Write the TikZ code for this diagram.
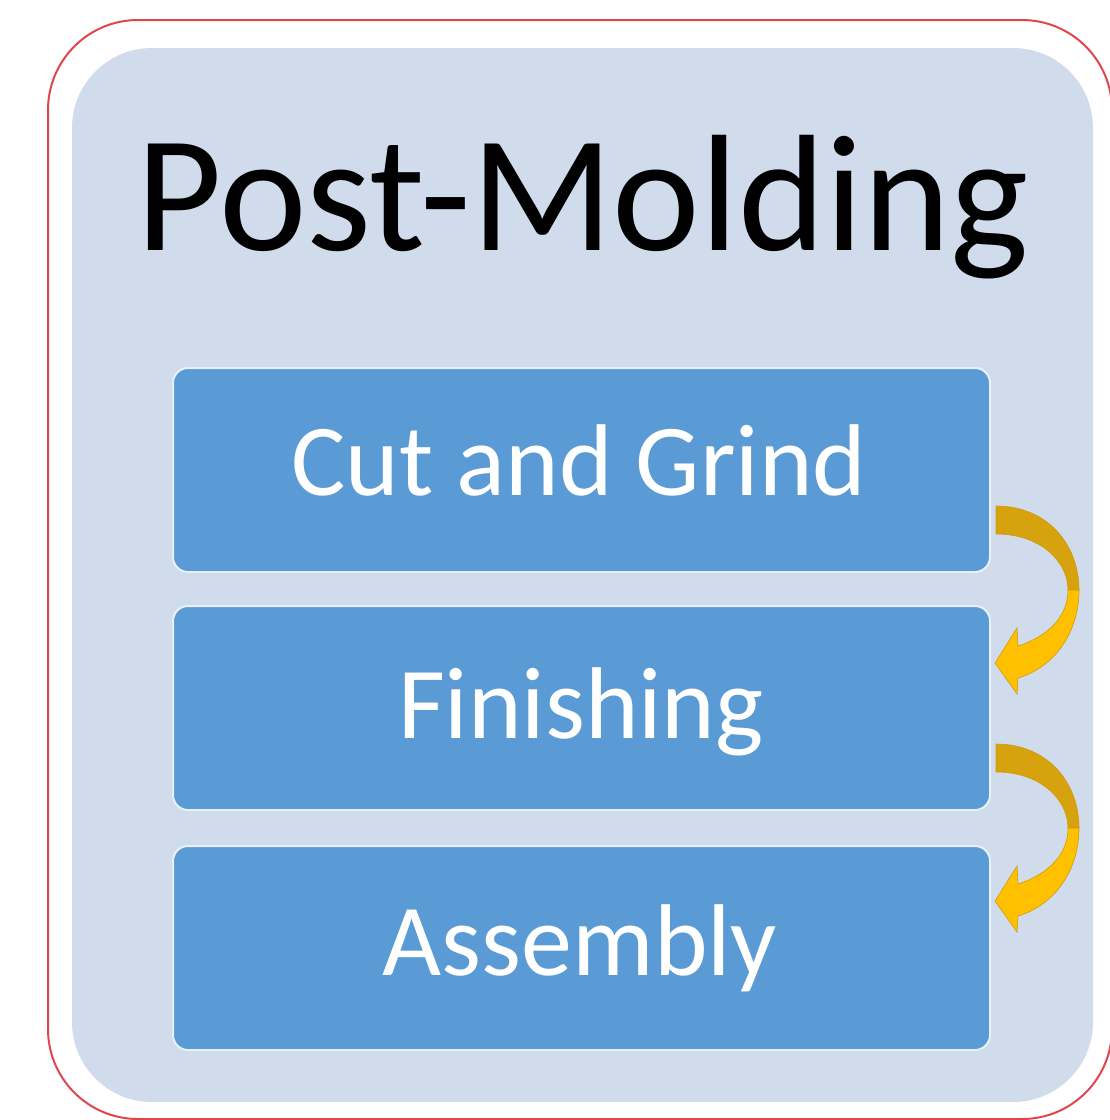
\documentclass[tikz,border=0pt]{standalone}
\usepackage{fontspec}
\setmainfont{Carlito}
\definecolor{panelblue}{HTML}{D0DCEC}
\definecolor{boxblue}{HTML}{5B9BD5}
\definecolor{outerred}{HTML}{E0464B}
\definecolor{golddark}{HTML}{D6A20E}
\definecolor{goldlight}{HTML}{FFC000}
\definecolor{goldline}{HTML}{D09A0C}
\tikzset{
  stepbox/.style={draw=white!85!boxblue, line width=2pt, fill=boxblue, rounded corners=15pt,
    minimum width=817pt, minimum height=204pt, inner sep=0pt},
  steplabel/.style={text=white, font=\fontsize{102}{120}\selectfont, anchor=base, inner sep=0pt},
  pics/curvarrow/.style={code={
    \fill[golddark, draw=goldline, line width=0.6pt]
      (5,36) .. controls (57,36) and (88,75) .. (88,120)
      -- (77,120) .. controls (77,92) and (50,64) .. (5,64) -- cycle;
    \fill[goldlight, draw=goldline, line width=0.6pt]
      (88,120) .. controls (88,162) and (64,197) .. (27,208)
      -- (26,224) -- (4,193) -- (26,158) -- (27,176)
      .. controls (58,166) and (77,146) .. (77,120) -- cycle;
  }}
}
\begin{document}
\begin{tikzpicture}[x=1pt,y=-1pt]
\useasboundingbox (0,0) rectangle (1110,1120);
\clip (0,0) rectangle (1110,1120);
\fill[white] (0,0) rectangle (1110,1120);
\draw[outerred, line width=2pt, rounded corners=90pt] (48,20) rectangle (1112,1119);
\fill[panelblue, rounded corners=80pt] (72,48) rectangle (1093,1102);
\node[inner sep=0pt, anchor=base, font=\fontsize{166}{190}\selectfont] (title) at (583,250) {Post-Molding};
\node[stepbox] (b1) at (581.5,470) {};
\node[stepbox] (b2) at (581.5,708) {};
\node[stepbox] (b3) at (581.5,948) {};
\node[steplabel] (t1) at (579,495) {Cut and Grind};
\node[steplabel] (t2) at (581,738) {Finishing};
\node[steplabel] (t3) at (580,975) {Assembly};
\pic at (b1.east) {curvarrow};
\pic at (b2.east) {curvarrow};
\end{tikzpicture}
\end{document}
